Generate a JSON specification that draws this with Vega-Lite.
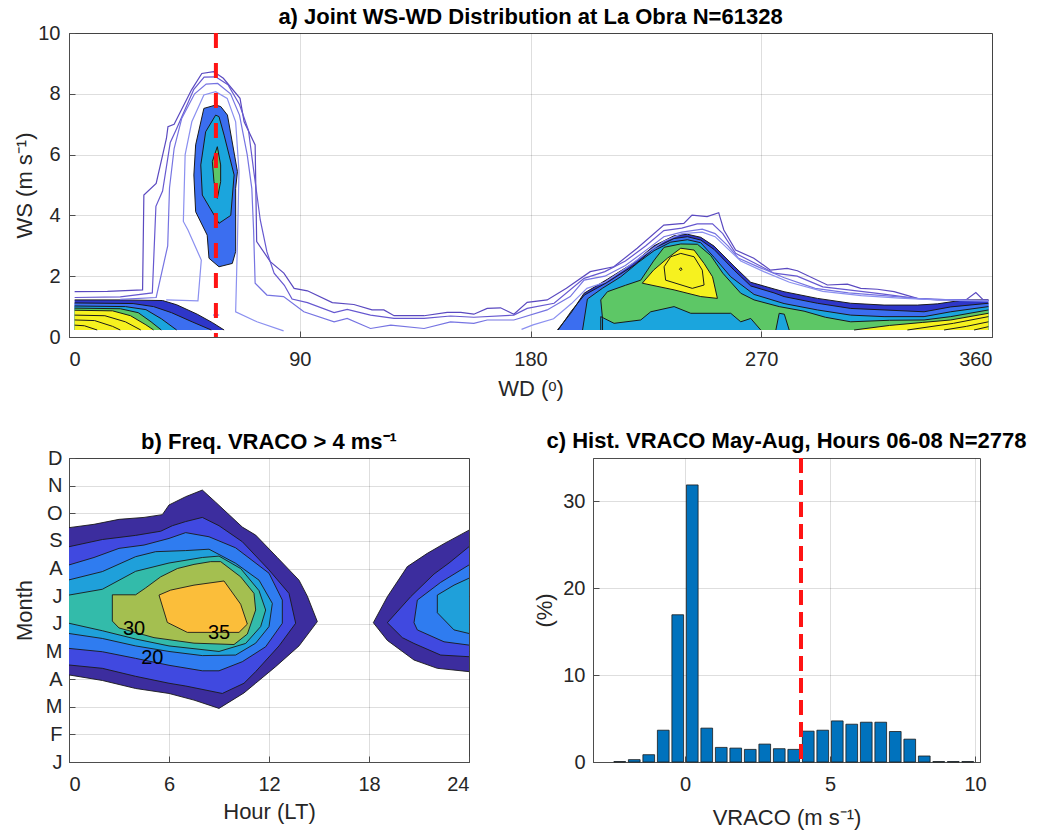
{
  "$schema": "https://vega.github.io/schema/vega-lite/v6.json",
  "background": "white",
  "padding": {"left": 12, "top": 5, "right": 5, "bottom": 2},
  "spacing": 121,
  "bounds": "flush",
  "config": {
    "font": "Liberation Sans",
    "view": {"stroke": "#4d4d4d", "strokeWidth": 1},
    "axis": {
      "labelFont": "Liberation Sans", "labelFontSize": 20, "labelColor": "#262626",
      "titleFont": "Liberation Sans", "titleFontSize": 22, "titleFontWeight": "normal", "titleColor": "#262626",
      "domain": true, "domainColor": "#4d4d4d", "domainWidth": 1,
      "ticks": true, "tickSize": -6, "tickColor": "#4d4d4d", "tickWidth": 1,
      "grid": true, "gridColor": "#000000", "gridOpacity": 0.13, "gridWidth": 1,
      "labelPadding": 15, "zindex": 1
    },
    "title": {"font": "Liberation Sans", "fontSize": 22, "fontWeight": "bold", "color": "#000000"}
  },
  "datasets": {
    "apoly": [
      {"lev":1,"g":"n_ll","wd":2.2,"ws":1.22},{"lev":1,"g":"n_ll","wd":20,"ws":1.22},{"lev":1,"g":"n_ll","wd":36.5,"ws":1.2},{"lev":1,"g":"n_ll","wd":42,"ws":1.06},{"lev":1,"g":"n_ll","wd":50,"ws":0.75},{"lev":1,"g":"n_ll","wd":56,"ws":0.47},{"lev":1,"g":"n_ll","wd":60.5,"ws":0.23},{"lev":1,"g":"n_ll","wd":2.2,"ws":0.23,"e":1},
      {"lev":1,"g":"n_sw","wd":190.5,"ws":0.23},{"lev":1,"g":"n_sw","wd":195.7,"ws":0.78},{"lev":1,"g":"n_sw","wd":200.9,"ws":1.44},{"lev":1,"g":"n_sw","wd":210,"ws":1.9},{"lev":1,"g":"n_sw","wd":220.4,"ws":2.45},{"lev":1,"g":"n_sw","wd":228.2,"ws":3.0},{"lev":1,"g":"n_sw","wd":236,"ws":3.33},{"lev":1,"g":"n_sw","wd":241.2,"ws":3.38},{"lev":1,"g":"n_sw","wd":246.4,"ws":3.28},{"lev":1,"g":"n_sw","wd":251.6,"ws":2.99},{"lev":1,"g":"n_sw","wd":259.4,"ws":2.33},{"lev":1,"g":"n_sw","wd":265.9,"ws":1.8},{"lev":1,"g":"n_sw","wd":275,"ws":1.58},{"lev":1,"g":"n_sw","wd":278.9,"ws":1.49},{"lev":1,"g":"n_sw","wd":291.9,"ws":1.27},{"lev":1,"g":"n_sw","wd":304.9,"ws":1.11},{"lev":1,"g":"n_sw","wd":317.9,"ws":1.05},{"lev":1,"g":"n_sw","wd":330.9,"ws":1.05},{"lev":1,"g":"n_sw","wd":338.7,"ws":1.09},{"lev":1,"g":"n_sw","wd":349.1,"ws":1.22},{"lev":1,"g":"n_sw","wd":358.6,"ws":1.22},{"lev":1,"g":"n_sw","wd":358.6,"ws":0.23,"e":1},
      {"lev":2,"g":"b_ll","wd":2.2,"ws":1.12},{"lev":2,"g":"b_ll","wd":25,"ws":1.1},{"lev":2,"g":"b_ll","wd":33,"ws":1.0},{"lev":2,"g":"b_ll","wd":40,"ws":0.8},{"lev":2,"g":"b_ll","wd":48,"ws":0.5},{"lev":2,"g":"b_ll","wd":55.5,"ws":0.23},{"lev":2,"g":"b_ll","wd":2.2,"ws":0.23,"e":1},
      {"lev":2,"g":"b_ne","wd":57.2,"ws":7.63},{"lev":2,"g":"b_ne","wd":52.6,"ws":7.52},{"lev":2,"g":"b_ne","wd":49.4,"ws":6.32},{"lev":2,"g":"b_ne","wd":48.7,"ws":5.33},{"lev":2,"g":"b_ne","wd":49.4,"ws":4.12},{"lev":2,"g":"b_ne","wd":53.9,"ws":3.35},{"lev":2,"g":"b_ne","wd":54.6,"ws":2.59},{"lev":2,"g":"b_ne","wd":58.5,"ws":2.31},{"lev":2,"g":"b_ne","wd":63.7,"ws":2.42},{"lev":2,"g":"b_ne","wd":65,"ws":2.81},{"lev":2,"g":"b_ne","wd":65,"ws":4.89},{"lev":2,"g":"b_ne","wd":65.7,"ws":5.44},{"lev":2,"g":"b_ne","wd":61.8,"ws":7.3},{"lev":2,"g":"b_ne","wd":59.2,"ws":7.58},{"lev":2,"g":"b_ne","wd":57.2,"ws":7.63},
      {"lev":2,"g":"b_sw","wd":190.8,"ws":0.23},{"lev":2,"g":"b_sw","wd":195.9,"ws":0.85},{"lev":2,"g":"b_sw","wd":201,"ws":1.38},{"lev":2,"g":"b_sw","wd":210,"ws":1.8},{"lev":2,"g":"b_sw","wd":220.4,"ws":2.36},{"lev":2,"g":"b_sw","wd":228.2,"ws":2.92},{"lev":2,"g":"b_sw","wd":236,"ws":3.24},{"lev":2,"g":"b_sw","wd":241.2,"ws":3.3},{"lev":2,"g":"b_sw","wd":246.4,"ws":3.19},{"lev":2,"g":"b_sw","wd":251.6,"ws":2.88},{"lev":2,"g":"b_sw","wd":259.4,"ws":2.2},{"lev":2,"g":"b_sw","wd":265.9,"ws":1.68},{"lev":2,"g":"b_sw","wd":275,"ws":1.45},{"lev":2,"g":"b_sw","wd":278.9,"ws":1.33},{"lev":2,"g":"b_sw","wd":291.9,"ws":1.11},{"lev":2,"g":"b_sw","wd":304.9,"ws":0.94},{"lev":2,"g":"b_sw","wd":317.9,"ws":0.89},{"lev":2,"g":"b_sw","wd":333.5,"ws":0.83},{"lev":2,"g":"b_sw","wd":343.9,"ws":0.99},{"lev":2,"g":"b_sw","wd":358.6,"ws":1.11},{"lev":2,"g":"b_sw","wd":358.6,"ws":0.23,"e":1},
      {"lev":3,"g":"c_ll","wd":2.2,"ws":1.02},{"lev":3,"g":"c_ll","wd":22,"ws":1.0},{"lev":3,"g":"c_ll","wd":30,"ws":0.9},{"lev":3,"g":"c_ll","wd":36,"ws":0.6},{"lev":3,"g":"c_ll","wd":42,"ws":0.23},{"lev":3,"g":"c_ll","wd":2.2,"ws":0.23,"e":1},
      {"lev":3,"g":"c_ne","wd":57.2,"ws":7.3},{"lev":3,"g":"c_ne","wd":53.3,"ws":6.75},{"lev":3,"g":"c_ne","wd":51.4,"ws":5.66},{"lev":3,"g":"c_ne","wd":52,"ws":4.67},{"lev":3,"g":"c_ne","wd":58.5,"ws":3.74},{"lev":3,"g":"c_ne","wd":63.1,"ws":4.0},{"lev":3,"g":"c_ne","wd":64.4,"ws":5.33},{"lev":3,"g":"c_ne","wd":60.5,"ws":6.64},{"lev":3,"g":"c_ne","wd":58.5,"ws":7.25},{"lev":3,"g":"c_ne","wd":57.2,"ws":7.3},
      {"lev":3,"g":"c_sw","wd":200.3,"ws":0.23},{"lev":3,"g":"c_sw","wd":202.2,"ws":1.25},{"lev":3,"g":"c_sw","wd":208,"ws":1.6},{"lev":3,"g":"c_sw","wd":215.2,"ws":1.98},{"lev":3,"g":"c_sw","wd":222,"ws":2.45},{"lev":3,"g":"c_sw","wd":228.2,"ws":2.84},{"lev":3,"g":"c_sw","wd":234.7,"ws":3.12},{"lev":3,"g":"c_sw","wd":241.2,"ws":3.2},{"lev":3,"g":"c_sw","wd":246.4,"ws":3.1},{"lev":3,"g":"c_sw","wd":251.6,"ws":2.62},{"lev":3,"g":"c_sw","wd":258.1,"ws":1.98},{"lev":3,"g":"c_sw","wd":267.2,"ws":1.4},{"lev":3,"g":"c_sw","wd":278.9,"ws":1.1},{"lev":3,"g":"c_sw","wd":291.9,"ws":0.89},{"lev":3,"g":"c_sw","wd":304.9,"ws":0.72},{"lev":3,"g":"c_sw","wd":317.9,"ws":0.67},{"lev":3,"g":"c_sw","wd":333.5,"ws":0.67},{"lev":3,"g":"c_sw","wd":343.9,"ws":0.83},{"lev":3,"g":"c_sw","wd":358.6,"ws":1.0},{"lev":3,"g":"c_sw","wd":358.6,"ws":0.23,"e":1},
      {"lev":4,"g":"g_ll","wd":2.2,"ws":0.95},{"lev":4,"g":"g_ll","wd":20,"ws":0.93},{"lev":4,"g":"g_ll","wd":27,"ws":0.8},{"lev":4,"g":"g_ll","wd":32,"ws":0.5},{"lev":4,"g":"g_ll","wd":36,"ws":0.23},{"lev":4,"g":"g_ll","wd":2.2,"ws":0.23,"e":1},
      {"lev":4,"g":"g_ne","wd":57.85,"ws":6.26},{"lev":4,"g":"g_ne","wd":55.9,"ws":5.77},{"lev":4,"g":"g_ne","wd":56.55,"ws":5.11},{"lev":4,"g":"g_ne","wd":57.85,"ws":4.56},{"lev":4,"g":"g_ne","wd":59.15,"ws":5.11},{"lev":4,"g":"g_ne","wd":59.15,"ws":5.66},{"lev":4,"g":"g_ne","wd":57.85,"ws":6.26},
      {"lev":4,"g":"g_sw","wd":208.1,"ws":0.23},{"lev":4,"g":"g_sw","wd":208.1,"ws":0.6},{"lev":4,"g":"g_sw","wd":207.4,"ws":1.22},{"lev":4,"g":"g_sw","wd":210,"ws":1.49},{"lev":4,"g":"g_sw","wd":217,"ws":1.7},{"lev":4,"g":"g_sw","wd":223,"ws":1.87},{"lev":4,"g":"g_sw","wd":228,"ws":2.5},{"lev":4,"g":"g_sw","wd":232.1,"ws":2.95},{"lev":4,"g":"g_sw","wd":238.6,"ws":3.06},{"lev":4,"g":"g_sw","wd":245.1,"ws":3.05},{"lev":4,"g":"g_sw","wd":250.3,"ws":2.68},{"lev":4,"g":"g_sw","wd":255,"ws":2.1},{"lev":4,"g":"g_sw","wd":262,"ws":1.44},{"lev":4,"g":"g_sw","wd":267.2,"ws":1.22},{"lev":4,"g":"g_sw","wd":277,"ws":1.0},{"lev":4,"g":"g_sw","wd":286.7,"ws":0.85},{"lev":4,"g":"g_sw","wd":295,"ws":0.65},{"lev":4,"g":"g_sw","wd":304.9,"ws":0.5},{"lev":4,"g":"g_sw","wd":320,"ws":0.55},{"lev":4,"g":"g_sw","wd":333.5,"ws":0.56},{"lev":4,"g":"g_sw","wd":343.9,"ws":0.67},{"lev":4,"g":"g_sw","wd":358.6,"ws":0.89},{"lev":4,"g":"g_sw","wd":358.6,"ws":0.23,"e":1},
      {"lev":5,"g":"h1","wd":207.4,"ws":0.23},{"lev":5,"g":"h1","wd":207.4,"ws":0.67},{"lev":5,"g":"h1","wd":212.6,"ws":0.45},{"lev":5,"g":"h1","wd":223,"ws":0.56},{"lev":5,"g":"h1","wd":226.9,"ws":0.83},{"lev":5,"g":"h1","wd":236,"ws":1.0},{"lev":5,"g":"h1","wd":242.5,"ws":0.78},{"lev":5,"g":"h1","wd":258.1,"ws":0.78},{"lev":5,"g":"h1","wd":262,"ws":0.5},{"lev":5,"g":"h1","wd":265.9,"ws":0.61},{"lev":5,"g":"h1","wd":269.8,"ws":0.23},
      {"lev":5,"g":"h2","wd":275.7,"ws":0.23},{"lev":5,"g":"h2","wd":277,"ws":0.78},{"lev":5,"g":"h2","wd":279,"ws":0.75},{"lev":5,"g":"h2","wd":280.9,"ws":0.23},
      {"lev":6,"g":"y_ll","wd":2.2,"ws":0.88},{"lev":6,"g":"y_ll","wd":17,"ws":0.86},{"lev":6,"g":"y_ll","wd":24,"ws":0.7},{"lev":6,"g":"y_ll","wd":30,"ws":0.4},{"lev":6,"g":"y_ll","wd":33,"ws":0.23},{"lev":6,"g":"y_ll","wd":2.2,"ws":0.23,"e":1},
      {"lev":6,"g":"y_sw","wd":223.6,"ws":1.77},{"lev":6,"g":"y_sw","wd":228,"ws":2.2},{"lev":6,"g":"y_sw","wd":233.4,"ws":2.59},{"lev":6,"g":"y_sw","wd":238.6,"ws":2.92},{"lev":6,"g":"y_sw","wd":243.8,"ws":2.86},{"lev":6,"g":"y_sw","wd":247.7,"ws":2.42},{"lev":6,"g":"y_sw","wd":251,"ws":1.98},{"lev":6,"g":"y_sw","wd":252.9,"ws":1.27},{"lev":6,"g":"y_sw","wd":246.4,"ws":1.33},{"lev":6,"g":"y_sw","wd":236,"ws":1.55},{"lev":6,"g":"y_sw","wd":223.6,"ws":1.77},
      {"lev":6,"g":"y_r","wd":306.2,"ws":0.23},{"lev":6,"g":"y_r","wd":320,"ws":0.38},{"lev":6,"g":"y_r","wd":333,"ws":0.48},{"lev":6,"g":"y_r","wd":343.9,"ws":0.56},{"lev":6,"g":"y_r","wd":358.6,"ws":0.78},{"lev":6,"g":"y_r","wd":358.6,"ws":0.23,"e":1},
      {"lev":9,"g":"i1","wd":2.2,"ws":0.72},{"lev":9,"g":"i1","wd":14,"ws":0.7},{"lev":9,"g":"i1","wd":22,"ws":0.5},{"lev":9,"g":"i1","wd":28,"ws":0.23},
      {"lev":9,"g":"i2","wd":2.2,"ws":0.56},{"lev":9,"g":"i2","wd":10,"ws":0.54},{"lev":9,"g":"i2","wd":17,"ws":0.35},{"lev":9,"g":"i2","wd":20,"ws":0.23},
      {"lev":9,"g":"i3","wd":2.2,"ws":0.39},{"lev":9,"g":"i3","wd":6,"ws":0.37},{"lev":9,"g":"i3","wd":11,"ws":0.23},
      {"lev":9,"g":"i4","wd":232.1,"ws":2.31},{"lev":9,"g":"i4","wd":234.7,"ws":2.64},{"lev":9,"g":"i4","wd":238.6,"ws":2.75},{"lev":9,"g":"i4","wd":243.8,"ws":2.64},{"lev":9,"g":"i4","wd":247,"ws":2.2},{"lev":9,"g":"i4","wd":247.7,"ws":1.71},{"lev":9,"g":"i4","wd":243.1,"ws":1.6},{"lev":9,"g":"i4","wd":232.7,"ws":1.87},{"lev":9,"g":"i4","wd":232.1,"ws":2.31},
      {"lev":9,"g":"i5","wd":238.1,"ws":2.23},{"lev":9,"g":"i5","wd":238.6,"ws":2.28},{"lev":9,"g":"i5","wd":239.1,"ws":2.23},{"lev":9,"g":"i5","wd":238.6,"ws":2.18},{"lev":9,"g":"i5","wd":238.1,"ws":2.23},
      {"lev":9,"g":"i6","wd":327,"ws":0.23},{"lev":9,"g":"i6","wd":345,"ws":0.45},{"lev":9,"g":"i6","wd":358.6,"ws":0.67},
      {"lev":9,"g":"i7","wd":341.3,"ws":0.23},{"lev":9,"g":"i7","wd":350,"ws":0.35},{"lev":9,"g":"i7","wd":358.6,"ws":0.5},
      {"lev":9,"g":"i8","wd":353,"ws":0.23},{"lev":9,"g":"i8","wd":358.6,"ws":0.34}
    ],
    "alines": [
      {"ln":"A","g":"A","wd":2.2,"ws":1.49},{"ln":"A","g":"A","wd":15,"ws":1.5},{"ln":"A","g":"A","wd":28.7,"ws":1.55},{"ln":"A","g":"A","wd":29.2,"ws":4.67},{"ln":"A","g":"A","wd":34,"ws":5.05},{"ln":"A","g":"A","wd":38,"ws":6.53},{"ln":"A","g":"A","wd":38.6,"ws":6.92},{"ln":"A","g":"A","wd":41,"ws":7.0},{"ln":"A","g":"A","wd":47.8,"ws":8.13},{"ln":"A","g":"A","wd":51.8,"ws":8.67},{"ln":"A","g":"A","wd":56.4,"ws":8.73},{"ln":"A","g":"A","wd":60.2,"ws":8.51},{"ln":"A","g":"A","wd":66.7,"ws":7.85},{"ln":"A","g":"A","wd":68.3,"ws":7.08},{"ln":"A","g":"A","wd":72.6,"ws":6.32},{"ln":"A","g":"A","wd":73.2,"ws":3.14},{"ln":"A","g":"A","wd":78.5,"ws":2.48},{"ln":"A","g":"A","wd":83.8,"ws":2.1},{"ln":"A","g":"A","wd":87.8,"ws":1.6},{"ln":"A","g":"A","wd":93,"ws":1.52},{"ln":"A","g":"A","wd":102.7,"ws":1.13},{"ln":"A","g":"A","wd":111.1,"ws":1.07},{"ln":"A","g":"A","wd":118.2,"ws":0.89},{"ln":"A","g":"A","wd":122.8,"ws":0.89},{"ln":"A","g":"A","wd":126.8,"ws":0.7},{"ln":"A","g":"A","wd":138.5,"ws":0.7},{"ln":"A","g":"A","wd":147.5,"ws":0.81},{"ln":"A","g":"A","wd":152.8,"ws":0.81},{"ln":"A","g":"A","wd":157.9,"ws":0.75},{"ln":"A","g":"A","wd":163.1,"ws":0.94},{"ln":"A","g":"A","wd":168.3,"ws":0.96},{"ln":"A","g":"A","wd":173.5,"ws":0.75},{"ln":"A","g":"A","wd":178.7,"ws":1.14},{"ln":"A","g":"A","wd":186.5,"ws":1.22},{"ln":"A","g":"A","wd":194,"ws":1.6},{"ln":"A","g":"A","wd":203.3,"ws":2.15},{"ln":"A","g":"A","wd":212.5,"ws":2.31},{"ln":"A","g":"A","wd":221.6,"ws":2.92},{"ln":"A","g":"A","wd":232,"ws":3.68},{"ln":"A","g":"A","wd":239.8,"ws":3.74},{"ln":"A","g":"A","wd":243,"ws":4.01},{"ln":"A","g":"A","wd":248.9,"ws":3.96},{"ln":"A","g":"A","wd":253.4,"ws":4.09},{"ln":"A","g":"A","wd":255.4,"ws":3.52},{"ln":"A","g":"A","wd":260,"ws":2.86},{"ln":"A","g":"A","wd":267.1,"ws":2.59},{"ln":"A","g":"A","wd":273.6,"ws":2.2},{"ln":"A","g":"A","wd":280.1,"ws":2.26},{"ln":"A","g":"A","wd":284.1,"ws":2.18},{"ln":"A","g":"A","wd":295.8,"ws":1.71},{"ln":"A","g":"A","wd":303.6,"ws":1.74},{"ln":"A","g":"A","wd":308.8,"ws":1.6},{"ln":"A","g":"A","wd":315.3,"ws":1.57},{"ln":"A","g":"A","wd":321.8,"ws":1.49},{"ln":"A","g":"A","wd":330.9,"ws":1.27},{"ln":"A","g":"A","wd":338.7,"ws":1.22},{"ln":"A","g":"A","wd":349.8,"ws":1.22},{"ln":"A","g":"A","wd":353.7,"ws":1.46},{"ln":"A","g":"A","wd":356.6,"ws":1.22},{"ln":"A","g":"A","wd":358.6,"ws":1.22},
      {"ln":"B","g":"B","wd":2.2,"ws":1.3},{"ln":"B","g":"B","wd":20,"ws":1.32},{"ln":"B","g":"B","wd":32.5,"ws":1.45},{"ln":"B","g":"B","wd":33.9,"ws":4.3},{"ln":"B","g":"B","wd":36.5,"ws":4.8},{"ln":"B","g":"B","wd":39.5,"ws":6.4},{"ln":"B","g":"B","wd":41.7,"ws":6.8},{"ln":"B","g":"B","wd":48.7,"ws":8.15},{"ln":"B","g":"B","wd":52.7,"ws":8.55},{"ln":"B","g":"B","wd":57.2,"ws":8.56},{"ln":"B","g":"B","wd":62,"ws":8.3},{"ln":"B","g":"B","wd":66.5,"ws":7.65},{"ln":"B","g":"B","wd":70,"ws":6.8},{"ln":"B","g":"B","wd":72,"ws":5.5},{"ln":"B","g":"B","wd":74.6,"ws":3.85},{"ln":"B","g":"B","wd":77.2,"ws":2.8},{"ln":"B","g":"B","wd":80,"ws":2.1},{"ln":"B","g":"B","wd":84,"ws":1.7},{"ln":"B","g":"B","wd":87,"ws":1.25},{"ln":"B","g":"B","wd":93,"ws":1.13},{"ln":"B","g":"B","wd":103.4,"ws":0.8},{"ln":"B","g":"B","wd":108.5,"ws":0.91},{"ln":"B","g":"B","wd":117.6,"ws":0.72},{"ln":"B","g":"B","wd":126.8,"ws":0.61},{"ln":"B","g":"B","wd":138.5,"ws":0.61},{"ln":"B","g":"B","wd":148.8,"ws":0.69},{"ln":"B","g":"B","wd":157.9,"ws":0.65},{"ln":"B","g":"B","wd":173.5,"ws":0.72},{"ln":"B","g":"B","wd":178.7,"ws":0.94},{"ln":"B","g":"B","wd":189.2,"ws":1.11},{"ln":"B","g":"B","wd":200.9,"ws":1.93},{"ln":"B","g":"B","wd":209,"ws":2.15},{"ln":"B","g":"B","wd":217,"ws":2.5},{"ln":"B","g":"B","wd":225,"ws":3.0},{"ln":"B","g":"B","wd":232,"ws":3.5},{"ln":"B","g":"B","wd":239,"ws":3.58},{"ln":"B","g":"B","wd":245,"ws":3.72},{"ln":"B","g":"B","wd":251,"ws":3.72},{"ln":"B","g":"B","wd":255,"ws":3.4},{"ln":"B","g":"B","wd":260,"ws":2.75},{"ln":"B","g":"B","wd":267,"ws":2.45},{"ln":"B","g":"B","wd":275,"ws":2.1},{"ln":"B","g":"B","wd":284,"ws":2.0},{"ln":"B","g":"B","wd":294,"ws":1.65},{"ln":"B","g":"B","wd":304,"ws":1.55},{"ln":"B","g":"B","wd":317,"ws":1.42},{"ln":"B","g":"B","wd":331,"ws":1.26},{"ln":"B","g":"B","wd":344,"ws":1.22},{"ln":"B","g":"B","wd":358.6,"ws":1.2},
      {"ln":"C","g":"C","wd":20,"ws":1.24},{"ln":"C","g":"C","wd":34,"ws":1.3},{"ln":"C","g":"C","wd":38.5,"ws":3.0},{"ln":"C","g":"C","wd":39.2,"ws":4.9},{"ln":"C","g":"C","wd":41,"ws":6.2},{"ln":"C","g":"C","wd":44,"ws":7.2},{"ln":"C","g":"C","wd":49,"ws":8.0},{"ln":"C","g":"C","wd":53.5,"ws":8.32},{"ln":"C","g":"C","wd":58,"ws":8.34},{"ln":"C","g":"C","wd":63,"ws":8.0},{"ln":"C","g":"C","wd":66.5,"ws":7.3},{"ln":"C","g":"C","wd":69.5,"ws":6.0},{"ln":"C","g":"C","wd":71.3,"ws":4.89},{"ln":"C","g":"C","wd":72,"ws":3.5},{"ln":"C","g":"C","wd":72.6,"ws":1.77},{"ln":"C","g":"C","wd":77.2,"ws":1.38},{"ln":"C","g":"C","wd":83.7,"ws":1.33},{"ln":"C","g":"C","wd":91.6,"ws":0.83},{"ln":"C","g":"C","wd":103.4,"ws":0.5},{"ln":"C","g":"C","wd":108.5,"ws":0.61},{"ln":"C","g":"C","wd":117.6,"ws":0.28},{"ln":"C","g":"C","wd":125.5,"ws":0.39},{"ln":"C","g":"C","wd":138.5,"ws":0.28},{"ln":"C","g":"C","wd":148.8,"ws":0.5},{"ln":"C","g":"C","wd":157.9,"ws":0.45},{"ln":"C","g":"C","wd":163.1,"ws":0.56},{"ln":"C","g":"C","wd":173.5,"ws":0.56},{"ln":"C","g":"C","wd":186.5,"ws":0.89},{"ln":"C","g":"C","wd":195.5,"ws":1.33},{"ln":"C","g":"C","wd":200.9,"ws":1.87},{"ln":"C","g":"C","wd":209,"ws":2.0},{"ln":"C","g":"C","wd":217,"ws":2.35},{"ln":"C","g":"C","wd":225,"ws":2.85},{"ln":"C","g":"C","wd":232,"ws":3.3},{"ln":"C","g":"C","wd":239,"ws":3.45},{"ln":"C","g":"C","wd":247,"ws":3.55},{"ln":"C","g":"C","wd":252,"ws":3.4},{"ln":"C","g":"C","wd":257,"ws":3.0},{"ln":"C","g":"C","wd":261,"ws":2.6},{"ln":"C","g":"C","wd":269,"ws":2.3},{"ln":"C","g":"C","wd":279,"ws":1.95},{"ln":"C","g":"C","wd":291,"ws":1.6},{"ln":"C","g":"C","wd":304,"ws":1.45},{"ln":"C","g":"C","wd":319,"ws":1.35},{"ln":"C","g":"C","wd":334,"ws":1.25},{"ln":"C","g":"C","wd":358.6,"ws":1.2},
      {"ln":"D","g":"D1","wd":37.9,"ws":1.22},{"ln":"D","g":"D1","wd":50.3,"ws":1.19},{"ln":"D","g":"D1","wd":51.6,"ws":2.53},{"ln":"D","g":"D1","wd":46.4,"ws":3.52},{"ln":"D","g":"D1","wd":44.6,"ws":3.8},{"ln":"D","g":"D1","wd":45.3,"ws":6.0},{"ln":"D","g":"D1","wd":47.9,"ws":7.08},{"ln":"D","g":"D1","wd":52.6,"ws":7.96},{"ln":"D","g":"D1","wd":57.2,"ws":8.07},{"ln":"D","g":"D1","wd":61.7,"ws":7.85},{"ln":"D","g":"D1","wd":65,"ws":7.08},{"ln":"D","g":"D1","wd":66.3,"ws":5.44},{"ln":"D","g":"D1","wd":65.7,"ws":3.14},{"ln":"D","g":"D1","wd":65,"ws":0.83},{"ln":"D","g":"D1","wd":73.3,"ws":0.5},{"ln":"D","g":"D1","wd":83.7,"ws":0.2},
      {"ln":"D","g":"D2","wd":176.5,"ws":0.25},{"ln":"D","g":"D2","wd":181,"ws":0.4},{"ln":"D","g":"D2","wd":189,"ws":0.6},{"ln":"D","g":"D2","wd":196,"ws":1.1},{"ln":"D","g":"D2","wd":202,"ws":1.6},{"ln":"D","g":"D2","wd":209,"ws":1.8},{"ln":"D","g":"D2","wd":217,"ws":2.25},{"ln":"D","g":"D2","wd":225,"ws":2.75},{"ln":"D","g":"D2","wd":232,"ws":3.15},{"ln":"D","g":"D2","wd":239,"ws":3.4},{"ln":"D","g":"D2","wd":247,"ws":3.45},{"ln":"D","g":"D2","wd":252,"ws":3.3},{"ln":"D","g":"D2","wd":257,"ws":2.9},{"ln":"D","g":"D2","wd":262,"ws":2.5},{"ln":"D","g":"D2","wd":271,"ws":2.15},{"ln":"D","g":"D2","wd":281,"ws":1.8},{"ln":"D","g":"D2","wd":294,"ws":1.5},{"ln":"D","g":"D2","wd":309,"ws":1.36},{"ln":"D","g":"D2","wd":324,"ws":1.28},{"ln":"D","g":"D2","wd":339,"ws":1.22},{"ln":"D","g":"D2","wd":358.6,"ws":1.18},
      {"ln":"D","g":"D3","wd":56.3,"ws":0.72},{"ln":"D","g":"D3","wd":57.3,"ws":0.77},{"ln":"D","g":"D3","wd":58.3,"ws":0.72},{"ln":"D","g":"D3","wd":57.3,"ws":0.67},{"ln":"D","g":"D3","wd":56.3,"ws":0.72}
    ],
    "bpoly": [
      {"lev":1,"g":"l1a","hr":0,"mo":9.48},{"lev":1,"g":"l1a","hr":1.5,"mo":9.6},{"lev":1,"g":"l1a","hr":3,"mo":9.78},{"lev":1,"g":"l1a","hr":4.5,"mo":9.85},{"lev":1,"g":"l1a","hr":5.6,"mo":9.95},{"lev":1,"g":"l1a","hr":6.0,"mo":10.3},{"lev":1,"g":"l1a","hr":7,"mo":10.6},{"lev":1,"g":"l1a","hr":8,"mo":10.84},{"lev":1,"g":"l1a","hr":8.8,"mo":10.4},{"lev":1,"g":"l1a","hr":10.4,"mo":9.5},{"lev":1,"g":"l1a","hr":11.2,"mo":9.21},{"lev":1,"g":"l1a","hr":12.5,"mo":8.4},{"lev":1,"g":"l1a","hr":13.8,"mo":7.58},{"lev":1,"g":"l1a","hr":14.3,"mo":7.0},{"lev":1,"g":"l1a","hr":14.9,"mo":6.08},{"lev":1,"g":"l1a","hr":13.8,"mo":5.2},{"lev":1,"g":"l1a","hr":12.4,"mo":4.45},{"lev":1,"g":"l1a","hr":11.2,"mo":3.85},{"lev":1,"g":"l1a","hr":10.5,"mo":3.5},{"lev":1,"g":"l1a","hr":9,"mo":2.94},{"lev":1,"g":"l1a","hr":7.5,"mo":3.24},{"lev":1,"g":"l1a","hr":6,"mo":3.48},{"lev":1,"g":"l1a","hr":4,"mo":3.66},{"lev":1,"g":"l1a","hr":2,"mo":3.95},{"lev":1,"g":"l1a","hr":0,"mo":4.15},
      {"lev":1,"g":"l1b","hr":24,"mo":9.39},{"lev":1,"g":"l1b","hr":22.5,"mo":8.9},{"lev":1,"g":"l1b","hr":21.5,"mo":8.55},{"lev":1,"g":"l1b","hr":20.3,"mo":8.07},{"lev":1,"g":"l1b","hr":19.1,"mo":6.98},{"lev":1,"g":"l1b","hr":18.26,"mo":6.04},{"lev":1,"g":"l1b","hr":19.1,"mo":5.4},{"lev":1,"g":"l1b","hr":20.7,"mo":4.69},{"lev":1,"g":"l1b","hr":22.1,"mo":4.39},{"lev":1,"g":"l1b","hr":24,"mo":4.27},
      {"lev":2,"g":"l2a","hr":0,"mo":8.79},{"lev":2,"g":"l2a","hr":2,"mo":9.05},{"lev":2,"g":"l2a","hr":4,"mo":9.2},{"lev":2,"g":"l2a","hr":5.5,"mo":9.35},{"lev":2,"g":"l2a","hr":6.2,"mo":9.55},{"lev":2,"g":"l2a","hr":7,"mo":9.7},{"lev":2,"g":"l2a","hr":8,"mo":9.85},{"lev":2,"g":"l2a","hr":9,"mo":9.55},{"lev":2,"g":"l2a","hr":10.4,"mo":8.97},{"lev":2,"g":"l2a","hr":12,"mo":7.95},{"lev":2,"g":"l2a","hr":13.2,"mo":7.1},{"lev":2,"g":"l2a","hr":13.6,"mo":6.02},{"lev":2,"g":"l2a","hr":12.6,"mo":5.2},{"lev":2,"g":"l2a","hr":11.2,"mo":4.27},{"lev":2,"g":"l2a","hr":10.5,"mo":3.85},{"lev":2,"g":"l2a","hr":9.2,"mo":3.48},{"lev":2,"g":"l2a","hr":7,"mo":3.75},{"lev":2,"g":"l2a","hr":6,"mo":3.85},{"lev":2,"g":"l2a","hr":4,"mo":4.1},{"lev":2,"g":"l2a","hr":2,"mo":4.39},{"lev":2,"g":"l2a","hr":0,"mo":4.51},
      {"lev":2,"g":"l2b","hr":24,"mo":8.79},{"lev":2,"g":"l2b","hr":22.8,"mo":8.2},{"lev":2,"g":"l2b","hr":21.9,"mo":7.8},{"lev":2,"g":"l2b","hr":20.5,"mo":6.98},{"lev":2,"g":"l2b","hr":19.1,"mo":6.04},{"lev":2,"g":"l2b","hr":20.0,"mo":5.5},{"lev":2,"g":"l2b","hr":20.7,"mo":5.29},{"lev":2,"g":"l2b","hr":22.3,"mo":4.87},{"lev":2,"g":"l2b","hr":24,"mo":4.81},
      {"lev":3,"g":"l3a","hr":0,"mo":8.13},{"lev":3,"g":"l3a","hr":1.5,"mo":8.4},{"lev":3,"g":"l3a","hr":3,"mo":8.73},{"lev":3,"g":"l3a","hr":4.5,"mo":8.85},{"lev":3,"g":"l3a","hr":6,"mo":9.09},{"lev":3,"g":"l3a","hr":7,"mo":9.3},{"lev":3,"g":"l3a","hr":8.4,"mo":9.15},{"lev":3,"g":"l3a","hr":10,"mo":8.75},{"lev":3,"g":"l3a","hr":12,"mo":7.83},{"lev":3,"g":"l3a","hr":12.8,"mo":6.86},{"lev":3,"g":"l3a","hr":12.8,"mo":6.02},{"lev":3,"g":"l3a","hr":11.8,"mo":5.17},{"lev":3,"g":"l3a","hr":10.4,"mo":4.63},{"lev":3,"g":"l3a","hr":9,"mo":4.3},{"lev":3,"g":"l3a","hr":8,"mo":4.3},{"lev":3,"g":"l3a","hr":6,"mo":4.5},{"lev":3,"g":"l3a","hr":4,"mo":4.75},{"lev":3,"g":"l3a","hr":2,"mo":4.99},{"lev":3,"g":"l3a","hr":0,"mo":5.11},
      {"lev":3,"g":"l3b","hr":24,"mo":8.13},{"lev":3,"g":"l3b","hr":22.3,"mo":7.5},{"lev":3,"g":"l3b","hr":20.9,"mo":6.86},{"lev":3,"g":"l3b","hr":20.7,"mo":6.04},{"lev":3,"g":"l3b","hr":20.9,"mo":5.78},{"lev":3,"g":"l3b","hr":22.5,"mo":5.35},{"lev":3,"g":"l3b","hr":24,"mo":5.23},
      {"lev":4,"g":"l4a","hr":0,"mo":7.59},{"lev":4,"g":"l4a","hr":2,"mo":7.89},{"lev":4,"g":"l4a","hr":4,"mo":8.43},{"lev":4,"g":"l4a","hr":5.2,"mo":8.61},{"lev":4,"g":"l4a","hr":7,"mo":8.65},{"lev":4,"g":"l4a","hr":8.4,"mo":8.7},{"lev":4,"g":"l4a","hr":10,"mo":8.19},{"lev":4,"g":"l4a","hr":11.4,"mo":7.58},{"lev":4,"g":"l4a","hr":12.2,"mo":6.74},{"lev":4,"g":"l4a","hr":12,"mo":5.9},{"lev":4,"g":"l4a","hr":11.2,"mo":5.3},{"lev":4,"g":"l4a","hr":10,"mo":4.87},{"lev":4,"g":"l4a","hr":8,"mo":4.85},{"lev":4,"g":"l4a","hr":6,"mo":5.0},{"lev":4,"g":"l4a","hr":4,"mo":5.2},{"lev":4,"g":"l4a","hr":2,"mo":5.47},{"lev":4,"g":"l4a","hr":0,"mo":5.65},
      {"lev":4,"g":"l4b","hr":24,"mo":7.65},{"lev":4,"g":"l4b","hr":23.1,"mo":7.4},{"lev":4,"g":"l4b","hr":22.1,"mo":7.04},{"lev":4,"g":"l4b","hr":22.1,"mo":6.4},{"lev":4,"g":"l4b","hr":23.1,"mo":5.78},{"lev":4,"g":"l4b","hr":24,"mo":5.65},
      {"lev":5,"g":"l5a","hr":0,"mo":7.04},{"lev":5,"g":"l5a","hr":2,"mo":7.25},{"lev":5,"g":"l5a","hr":4,"mo":7.9},{"lev":5,"g":"l5a","hr":6,"mo":8.2},{"lev":5,"g":"l5a","hr":8,"mo":8.4},{"lev":5,"g":"l5a","hr":9,"mo":8.45},{"lev":5,"g":"l5a","hr":10.3,"mo":8.0},{"lev":5,"g":"l5a","hr":11.4,"mo":7.2},{"lev":5,"g":"l5a","hr":11.8,"mo":6.5},{"lev":5,"g":"l5a","hr":11.5,"mo":5.9},{"lev":5,"g":"l5a","hr":10.6,"mo":5.29},{"lev":5,"g":"l5a","hr":9,"mo":5.0},{"lev":5,"g":"l5a","hr":6,"mo":5.2},{"lev":5,"g":"l5a","hr":4,"mo":5.45},{"lev":5,"g":"l5a","hr":2,"mo":5.75},{"lev":5,"g":"l5a","hr":0,"mo":6.02},
      {"lev":6,"g":"l6","hr":2.6,"mo":7.05},{"lev":6,"g":"l6","hr":4,"mo":7.05},{"lev":6,"g":"l6","hr":4.6,"mo":7.3},{"lev":6,"g":"l6","hr":5.5,"mo":7.7},{"lev":6,"g":"l6","hr":6.5,"mo":8.0},{"lev":6,"g":"l6","hr":7.5,"mo":8.15},{"lev":6,"g":"l6","hr":8.5,"mo":8.25},{"lev":6,"g":"l6","hr":9.1,"mo":8.25},{"lev":6,"g":"l6","hr":10.3,"mo":7.7},{"lev":6,"g":"l6","hr":11.1,"mo":7.1},{"lev":6,"g":"l6","hr":11.2,"mo":6.5},{"lev":6,"g":"l6","hr":10.7,"mo":5.63},{"lev":6,"g":"l6","hr":9.9,"mo":5.25},{"lev":6,"g":"l6","hr":7.5,"mo":5.3},{"lev":6,"g":"l6","hr":5.1,"mo":5.5},{"lev":6,"g":"l6","hr":3,"mo":5.85},{"lev":6,"g":"l6","hr":2.6,"mo":6.1},{"lev":6,"g":"l6","hr":2.6,"mo":7.05},
      {"lev":7,"g":"l7","hr":5.4,"mo":7.04},{"lev":7,"g":"l7","hr":6.1,"mo":7.22},{"lev":7,"g":"l7","hr":7.5,"mo":7.4},{"lev":7,"g":"l7","hr":9.3,"mo":7.55},{"lev":7,"g":"l7","hr":10.3,"mo":6.71},{"lev":7,"g":"l7","hr":10.7,"mo":5.99},{"lev":7,"g":"l7","hr":10.2,"mo":5.69},{"lev":7,"g":"l7","hr":7.1,"mo":5.69},{"lev":7,"g":"l7","hr":5.9,"mo":6.05},{"lev":7,"g":"l7","hr":5.4,"mo":7.04}
    ],
    "blab": [
      {"hr":3.9,"mo":5.83,"t":"30"},{"hr":9.0,"mo":5.65,"t":"35"},{"hr":5.0,"mo":4.75,"t":"20"}
    ],
    "hist": [
      {"v":-2.25,"pct":0.05},{"v":-1.75,"pct":0.27},{"v":-1.25,"pct":0.84},{"v":-0.75,"pct":3.66},{"v":-0.25,"pct":16.95},{"v":0.25,"pct":31.9},{"v":0.75,"pct":3.9},{"v":1.25,"pct":1.68},{"v":1.75,"pct":1.6},{"v":2.25,"pct":1.45},{"v":2.75,"pct":2.06},{"v":3.25,"pct":1.53},{"v":3.75,"pct":1.45},{"v":4.25,"pct":3.55},{"v":4.75,"pct":3.66},{"v":5.25,"pct":4.73},{"v":5.75,"pct":4.35},{"v":6.25,"pct":4.58},{"v":6.75,"pct":4.58},{"v":7.25,"pct":3.51},{"v":7.75,"pct":2.63},{"v":8.25,"pct":0.69},{"v":8.75,"pct":0.05},{"v":9.25,"pct":0.05},{"v":9.75,"pct":0.05}
    ]
  },
  "vconcat": [
    {
      "title": {"text": "a) Joint WS-WD Distribution at La Obra N=61328", "offset": -5.5},
      "width": 923,
      "height": 304,
      "encoding": {
        "x": {"field": "wd", "type": "quantitative", "scale": {"domain": [0, 360], "nice": false, "zero": false}, "axis": {"values": [0, 90, 180, 270, 360], "title": "WD (ᵒ)", "titleY": 51, "titleBaseline": "middle", "labelPadding": 18}}
      },
      "layer": [
        {"data": {"name": "apoly"}, "transform": [{"filter": "datum.lev == 1"}], "mark": {"type": "line", "fill": "#2E36C9", "strokeWidth": 0, "strokeOpacity": 0}, "encoding": {"y": {"field": "ws", "type": "quantitative", "scale": {"domain": [0, 10], "nice": false, "zero": false}, "axis": {"values": [0, 2, 4, 6, 8, 10], "title": "WS (m s⁻¹)", "titleX": -45, "titleBaseline": "middle"}}, "detail": {"field": "g"}, "order": {"value": null}}},
        {"data": {"name": "apoly"}, "transform": [{"filter": "datum.lev == 2"}], "mark": {"type": "line", "fill": "#3B6EF0", "strokeWidth": 0, "strokeOpacity": 0}, "encoding": {"y": {"field": "ws", "type": "quantitative"}, "detail": {"field": "g"}, "order": {"value": null}}},
        {"data": {"name": "apoly"}, "transform": [{"filter": "datum.lev == 3"}], "mark": {"type": "line", "fill": "#1BA5DD", "strokeWidth": 0, "strokeOpacity": 0}, "encoding": {"y": {"field": "ws", "type": "quantitative"}, "detail": {"field": "g"}, "order": {"value": null}}},
        {"data": {"name": "apoly"}, "transform": [{"filter": "datum.lev == 4"}], "mark": {"type": "line", "fill": "#5DC766", "strokeWidth": 0, "strokeOpacity": 0}, "encoding": {"y": {"field": "ws", "type": "quantitative"}, "detail": {"field": "g"}, "order": {"value": null}}},
        {"data": {"name": "apoly"}, "transform": [{"filter": "datum.lev == 5"}], "mark": {"type": "line", "fill": "#1BA5DD", "strokeWidth": 0, "strokeOpacity": 0}, "encoding": {"y": {"field": "ws", "type": "quantitative"}, "detail": {"field": "g"}, "order": {"value": null}}},
        {"data": {"name": "apoly"}, "transform": [{"filter": "datum.lev == 6"}], "mark": {"type": "line", "fill": "#F6F11F", "strokeWidth": 0, "strokeOpacity": 0}, "encoding": {"y": {"field": "ws", "type": "quantitative"}, "detail": {"field": "g"}, "order": {"value": null}}},
        {"data": {"name": "apoly"}, "transform": [{"filter": "datum.e != 1"}], "mark": {"type": "line", "stroke": "#1a1a1a", "strokeWidth": 1}, "encoding": {"y": {"field": "ws", "type": "quantitative"}, "detail": {"field": "g"}, "order": {"value": null}}},
        {"data": {"name": "alines"}, "mark": {"type": "line", "strokeWidth": 1.2}, "encoding": {"y": {"field": "ws", "type": "quantitative"}, "detail": {"field": "g"}, "order": {"value": null}, "color": {"field": "ln", "type": "nominal", "scale": {"domain": ["A", "B", "C", "D"], "range": ["#5A49C0", "#6658D0", "#7674E2", "#8B90F0"]}, "legend": null}}},
        {"data": {"values": [{"wd": 57.3}]}, "mark": {"type": "rule", "stroke": "#FF1414", "strokeWidth": 4, "strokeDash": [15, 15]}, "encoding": {}}
      ]
    },
    {
      "hconcat": [
        {
          "title": {"text": "b) Freq. VRACO > 4 ms⁻¹", "offset": -5.5},
          "width": 400,
          "height": 304,
          "encoding": {
            "x": {"field": "hr", "type": "quantitative", "scale": {"domain": [0, 24], "nice": false, "zero": false}, "axis": {"values": [0, 6, 12, 18, 24], "title": "Hour (LT)", "titleY": 49, "titleBaseline": "middle", "labelPadding": 18}},
            "y": {"field": "mo", "type": "quantitative", "scale": {"domain": [1, 12], "nice": false, "zero": false}, "axis": {"values": [1, 2, 3, 4, 5, 6, 7, 8, 9, 10, 11, 12], "labelExpr": "['J','F','M','A','M','J','J','A','S','O','N','D'][datum.value-1]", "title": "Month", "titleX": -45, "titleBaseline": "middle", "labelPadding": 13}}
          },
          "layer": [
            {"data": {"name": "bpoly"}, "transform": [{"filter": "datum.lev == 1"}], "mark": {"type": "line", "fill": "#3C2D9E", "stroke": "#1a1a1a", "strokeWidth": 0.9}, "encoding": {"detail": {"field": "g"}, "order": {"value": null}}},
            {"data": {"name": "bpoly"}, "transform": [{"filter": "datum.lev == 2"}], "mark": {"type": "line", "fill": "#4049E0", "stroke": "#1a1a1a", "strokeWidth": 0.9}, "encoding": {"detail": {"field": "g"}, "order": {"value": null}}},
            {"data": {"name": "bpoly"}, "transform": [{"filter": "datum.lev == 3"}], "mark": {"type": "line", "fill": "#2F7CF0", "stroke": "#1a1a1a", "strokeWidth": 0.9}, "encoding": {"detail": {"field": "g"}, "order": {"value": null}}},
            {"data": {"name": "bpoly"}, "transform": [{"filter": "datum.lev == 4"}], "mark": {"type": "line", "fill": "#1FA0DA", "stroke": "#1a1a1a", "strokeWidth": 0.9}, "encoding": {"detail": {"field": "g"}, "order": {"value": null}}},
            {"data": {"name": "bpoly"}, "transform": [{"filter": "datum.lev == 5"}], "mark": {"type": "line", "fill": "#33BBAA", "stroke": "#1a1a1a", "strokeWidth": 0.9}, "encoding": {"detail": {"field": "g"}, "order": {"value": null}}},
            {"data": {"name": "bpoly"}, "transform": [{"filter": "datum.lev == 6"}], "mark": {"type": "line", "fill": "#A4BF50", "stroke": "#1a1a1a", "strokeWidth": 0.9}, "encoding": {"detail": {"field": "g"}, "order": {"value": null}}},
            {"data": {"name": "bpoly"}, "transform": [{"filter": "datum.lev == 7"}], "mark": {"type": "line", "fill": "#FBBE3A", "stroke": "#1a1a1a", "strokeWidth": 0.9}, "encoding": {"detail": {"field": "g"}, "order": {"value": null}}},
            {"data": {"name": "blab"}, "mark": {"type": "text", "fontSize": 20, "font": "Liberation Sans", "color": "#000000"}, "encoding": {"text": {"field": "t"}}}
          ]
        },
        {
          "title": {"text": "c) Hist. VRACO May-Aug, Hours 06-08 N=2778", "offset": 3.5},
          "width": 387,
          "height": 304,
          "encoding": {
            "x": {"field": "v", "type": "quantitative", "scale": {"domain": [-3, 10], "nice": false, "zero": false}, "axis": {"values": [0, 5, 10], "title": "VRACO (m s⁻¹)", "titleY": 55, "titleBaseline": "middle", "labelPadding": 18, "zindex": 0}}
          },
          "layer": [
            {"data": {"name": "hist"}, "mark": {"type": "bar", "size": 11.7, "fill": "#0072BD", "stroke": "#1a1a1a", "strokeWidth": 0.8}, "encoding": {"y": {"field": "pct", "type": "quantitative", "scale": {"domain": [0, 35], "nice": false}, "axis": {"values": [0, 10, 20, 30], "title": "(%)", "titleX": -49, "titleBaseline": "middle", "labelPadding": 14, "zindex": 0}}}},
            {"data": {"values": [{"v": 4}]}, "mark": {"type": "rule", "stroke": "#FF1414", "strokeWidth": 4, "strokeDash": [15, 7]}, "encoding": {}}
          ]
        }
      ],
      "spacing": 124,
      "bounds": "flush"
    }
  ]
}
